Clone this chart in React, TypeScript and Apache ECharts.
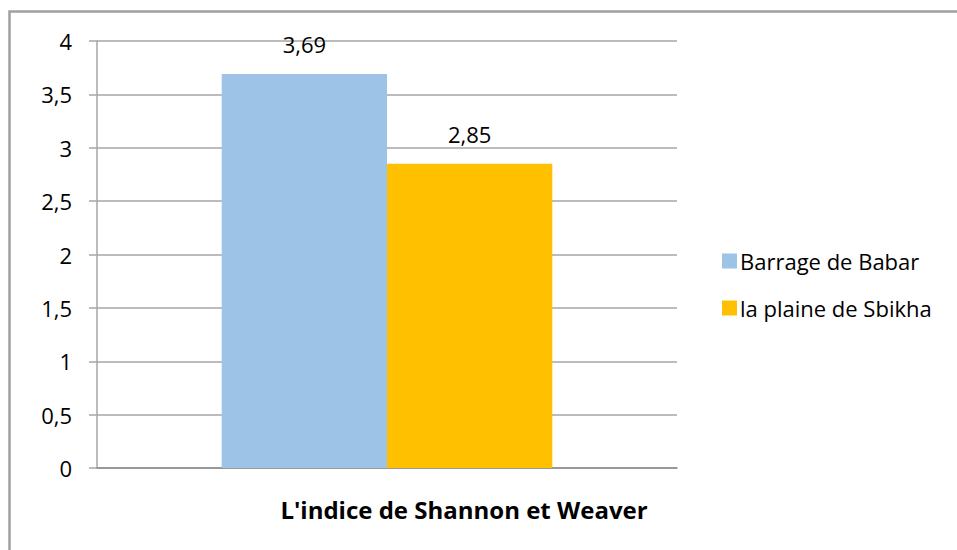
import React, { useEffect, useRef } from "react";
import * as echarts from "echarts";

const categories = ["L'indice de Shannon et Weaver"];
const seriesNames = ["Barrage de Babar", "la plaine de Sbikha"];
const babarValues = [3.69];
const sbikhaValues = [2.85];
const colors = ["#9DC3E6", "#FFC000"];

const FONT = "'Open Sans', sans-serif";

export default function App() {
  const ref = useRef<HTMLDivElement>(null);
  useEffect(() => {
    if (!ref.current) return;
    const chart = echarts.init(ref.current, undefined, { renderer: "svg" });
    const fmt = (v: number) => String(v).replace(".", ",");
    const barLabel = {
      show: true,
      position: "top",
      distance: 19,
      fontFamily: FONT,
      fontSize: 22,
      color: "#000",
      formatter: (p: any) => fmt(p.value),
    };
    chart.setOption({
      animation: false,
      backgroundColor: "#ffffff",
      grid: { left: 97, right: 280, top: 41, bottom: 82, containLabel: false },
      legend: {
        orient: "vertical",
        left: 717,
        top: 245,
        itemWidth: 15,
        itemHeight: 15,
        itemGap: 25,
        icon: "rect",
        textStyle: { fontFamily: FONT, fontSize: 22, color: "#000", padding: [0, 0, 0, -2] },
        data: seriesNames,
      },
      xAxis: {
        type: "category",
        data: categories,
        axisLine: { lineStyle: { color: "#8c8c8c", width: 1.5 } },
        axisTick: { show: false },
        axisLabel: { show: false },
      },
      yAxis: {
        type: "value",
        min: 0,
        max: 4,
        interval: 0.5,
        axisLine: { show: true, lineStyle: { color: "#a6a6a6", width: 1.5 } },
        axisTick: { show: true, length: 8, lineStyle: { color: "#a6a6a6", width: 1.5 } },
        splitLine: { lineStyle: { color: "#a6a6a6", width: 1.5 } },
        axisLabel: {
          margin: 25,
          fontFamily: FONT,
          fontSize: 22,
          color: "#000",
          formatter: (v: number) => fmt(v),
        },
      },
      series: [
        {
          name: seriesNames[0],
          type: "bar",
          data: babarValues,
          itemStyle: { color: colors[0] },
          barGap: "0%",
          barCategoryGap: "43%",
          label: barLabel,
        },
        {
          name: seriesNames[1],
          type: "bar",
          data: sbikhaValues,
          itemStyle: { color: colors[1] },
          barGap: "0%",
          barCategoryGap: "43%",
          label: barLabel,
        },
      ],
      graphic: [
        {
          type: "rect",
          shape: { x: 9.5, y: 11.5, width: 1100, height: 700 },
          style: { fill: "none", stroke: "#a0a0a0", lineWidth: 2.5 },
          silent: true,
        },
        {
          type: "text",
          x: 464,
          y: 509,
          style: {
            text: categories[0],
            fontFamily: FONT,
            fontSize: 24,
            fontWeight: "bold",
            fill: "#000",
            textAlign: "center",
            textVerticalAlign: "middle",
          },
        },
      ],
    });
    return () => chart.dispose();
  }, []);
  return (
    <div
      ref={ref}
      style={{ position: "fixed", left: 0, top: 0, width: 957, height: 550 }}
    />
  );
}
